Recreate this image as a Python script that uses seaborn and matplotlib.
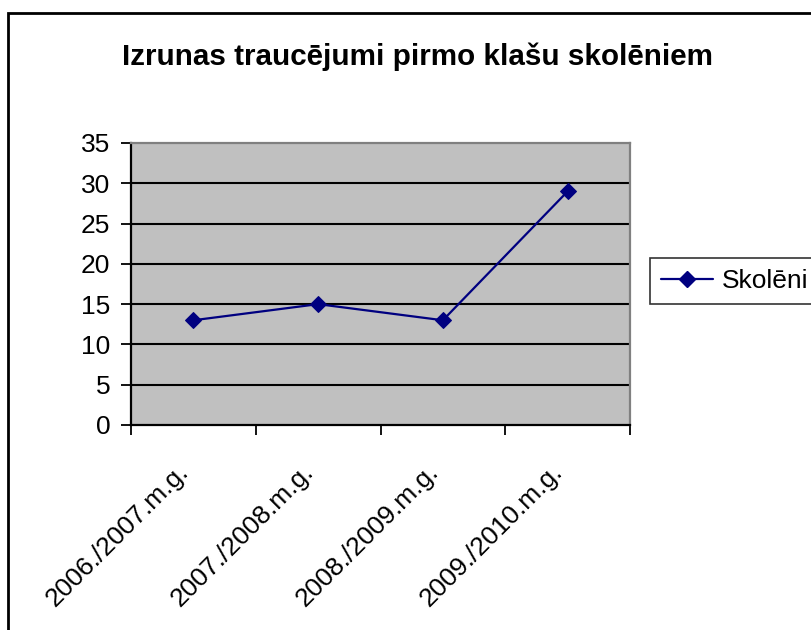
import matplotlib
matplotlib.use("Agg")
import matplotlib.pyplot as plt
import seaborn as sns
import pandas as pd
from matplotlib.patches import Rectangle

categories = ["2006./2007.m.g.", "2007./2008.m.g.", "2008./2009.m.g.", "2009./2010.m.g."]
values = [13, 15, 13, 29]
series_name = "Skolēni"
title = "Izrunas traucējumi pirmo klašu skolēniem"
yticks = [0, 5, 10, 15, 20, 25, 30, 35]

sns.set_theme(style="white")
plt.rcParams['font.family'] = ['Liberation Sans', 'DejaVu Sans']
plt.rcParams['text.color'] = 'black'
plt.rcParams['xtick.color'] = 'black'
plt.rcParams['ytick.color'] = 'black'

W, H = 811, 630
fig = plt.figure(figsize=(W / 100, H / 100), dpi=100)
fig.patch.set_facecolor("white")

# plot area: x 131..630, y 143..425 (pixels from top)
left, right, top, bottom = 131, 630, 143, 425
ax = fig.add_axes([left / W, 1 - bottom / H, (right - left) / W, (bottom - top) / H])
ax.set_facecolor("#C0C0C0")

df = pd.DataFrame({"x": list(range(len(categories))), "y": values, "s": series_name})
sns.lineplot(data=df, x="x", y="y", ax=ax, color="#000080", marker="D",
             markersize=8, markeredgecolor="#000080", linewidth=1.6, legend=False)

ax.set_xlim(-0.5, len(categories) - 0.5)
ax.set_ylim(0, 35)
ax.set_yticks(yticks)
ax.set_yticklabels([str(t) for t in yticks], fontsize=19, color="black")
for t in yticks[1:-1]:
    ax.axhline(t, color="black", linewidth=1.5, zorder=1)

ax.set_xticks(range(len(categories)))
ax.set_xticklabels(categories, fontsize=19, rotation=45, ha="right",
                   va="bottom", rotation_mode="anchor", color="black")
ax.set_xticks([i - 0.5 for i in range(len(categories) + 1)], minor=True)
ax.tick_params(axis="x", which="major", length=0, pad=37)
ax.tick_params(axis="x", which="minor", length=7, width=1.3, color="black", direction="out", bottom=True)
ax.tick_params(axis="y", which="major", length=7, width=1.3, color="black", direction="out", left=True, pad=8)
ax.set_xlabel("")
ax.set_ylabel("")

for s in ["left", "bottom"]:
    ax.spines[s].set_color("black")
    ax.spines[s].set_linewidth(1.6)
for s in ["top", "right"]:
    ax.spines[s].set_color("#808080")
    ax.spines[s].set_linewidth(1.6)

fig.text(418 / W, 1 - 57 / H, title, ha="center", va="center", fontsize=21.3,
         fontweight="bold", color="black")

handle = plt.Line2D([], [], color="#000080", marker="D", markersize=8, linewidth=1.6)
leg = fig.legend([handle], [series_name], loc="center left",
                 bbox_to_anchor=(650 / W, 1 - 281 / H), fontsize=19,
                 frameon=True, fancybox=False, edgecolor="black", borderaxespad=0,
                 handlelength=1.97, handletextpad=0.34, borderpad=0.42)
leg.get_frame().set_linewidth(1.2)
for t in leg.get_texts():
    t.set_color("black")

fig.patches.append(Rectangle((8 / W, -0.05), 1.1, 1.05 - 13 / H, transform=fig.transFigure,
                             fill=False, edgecolor="black", linewidth=2, clip_on=False))

fig.savefig("out.png", dpi=100)
